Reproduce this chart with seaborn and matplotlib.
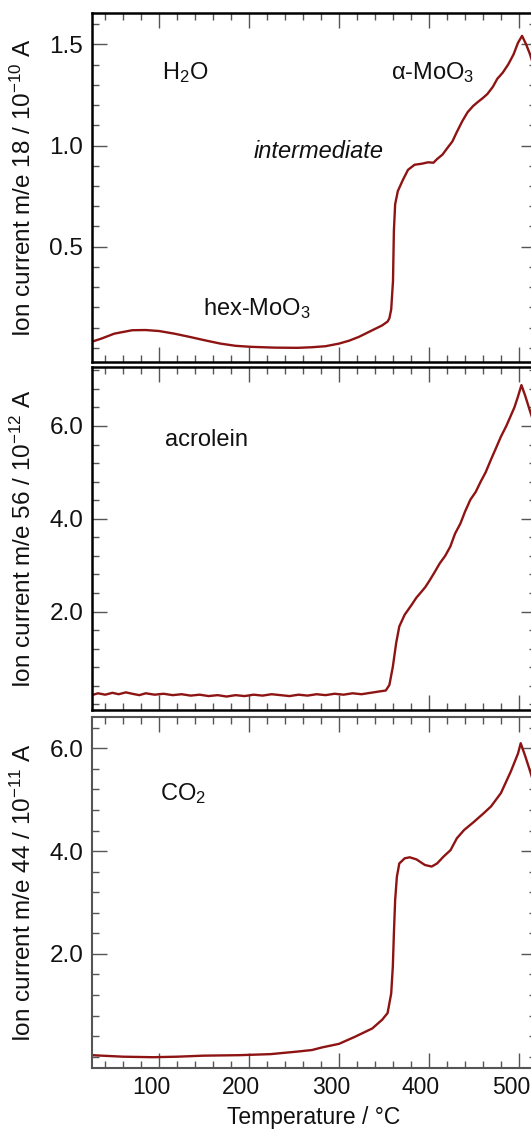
import numpy as np
import pandas as pd
import matplotlib
matplotlib.use("Agg")
import matplotlib.pyplot as plt
from matplotlib.ticker import MultipleLocator, FixedLocator, NullFormatter
from matplotlib.transforms import ScaledTranslation
import seaborn as sns

# ---------------- data ----------------
temp_h2o = [25, 36, 50, 70, 85, 100, 117, 134, 150, 168, 185, 202, 228, 254, 270, 285,
            300, 311, 322, 337, 348, 354, 356, 358, 360, 361, 362.4, 365.4, 371, 376.7,
            384, 392, 399, 405, 409, 415, 420, 426, 431, 437, 443, 449, 454, 460, 465,
            471, 476, 482, 488, 494, 499, 503.5, 508, 512, 516]
h2o = [0.030, 0.046, 0.070, 0.087, 0.088, 0.083, 0.070, 0.054, 0.038, 0.021, 0.010, 0.005,
       0.001, 0.000, 0.003, 0.008, 0.021, 0.035, 0.054, 0.087, 0.111, 0.130, 0.146, 0.190,
       0.330, 0.580, 0.710, 0.775, 0.830, 0.880, 0.905, 0.910, 0.917, 0.915, 0.933, 0.955,
       0.985, 1.020, 1.067, 1.120, 1.165, 1.195, 1.214, 1.235, 1.255, 1.290, 1.330, 1.360,
       1.400, 1.450, 1.508, 1.542, 1.500, 1.455, 1.400]

temp_acr = [25, 32, 40, 48, 55, 63, 70, 78, 85, 95, 105, 115, 125, 135, 145, 155, 165, 175,
            185, 195, 205, 215, 225, 235, 245, 255, 265, 275, 285, 295, 305, 315, 325, 335,
            345, 352, 356, 359.8, 363.5, 367, 372.9, 380.5, 386, 391.7, 396, 401, 406, 412,
            418, 423.7, 429, 435, 440, 446, 452, 457.5, 463, 468.8, 474, 480, 486, 491.4,
            495, 498.9, 502.8, 507, 512, 516]
acrolein = [0.20, 0.24, 0.21, 0.25, 0.22, 0.26, 0.23, 0.20, 0.24, 0.21, 0.23, 0.20, 0.22,
            0.19, 0.21, 0.18, 0.20, 0.17, 0.20, 0.18, 0.21, 0.19, 0.22, 0.20, 0.18, 0.21,
            0.19, 0.22, 0.20, 0.23, 0.21, 0.24, 0.22, 0.25, 0.28, 0.30, 0.42, 0.81, 1.32,
            1.68, 1.93, 2.14, 2.30, 2.43, 2.53, 2.68, 2.84, 3.04, 3.20, 3.40, 3.68, 3.90,
            4.15, 4.41, 4.58, 4.80, 5.00, 5.27, 5.50, 5.77, 6.00, 6.24, 6.40, 6.63, 6.88,
            6.65, 6.34, 6.10]

temp_co2 = [25, 36, 60, 93, 120, 149, 190, 224, 254, 270, 281, 300, 318, 337, 348, 354,
            358, 359.8, 361, 362.4, 364.3, 367, 373, 378.6, 386, 395.5, 403, 409, 416, 424,
            431, 439, 450, 461, 469, 480, 491, 499, 502, 507, 512, 516]
co2 = [0.03, 0.02, 0.00, -0.01, 0.00, 0.02, 0.03, 0.05, 0.10, 0.13, 0.18, 0.25, 0.39,
       0.55, 0.72, 0.85, 1.23, 1.75, 2.40, 3.05, 3.50, 3.76, 3.86, 3.88, 3.84, 3.73, 3.70,
       3.76, 3.89, 4.02, 4.25, 4.41, 4.57, 4.74, 4.87, 5.13, 5.55, 5.90, 6.10, 5.85, 5.58,
       5.35]

ylabels = ["Ion current m/e 18 / 10$^{\\mathregular{-10}}$ A",
           "Ion current m/e 56 / 10$^{\\mathregular{-12}}$ A",
           "Ion current m/e 44 / 10$^{\\mathregular{-11}}$ A"]
x_ticks = [100, 200, 300, 400, 500]
xlabel = "Temperature / °C"

# ---------------- style ----------------
sns.set_style("ticks")
plt.rcParams["font.family"] = ["Liberation Sans", "DejaVu Sans"]
plt.rcParams["mathtext.fontset"] = "custom"
plt.rcParams["mathtext.rm"] = "Liberation Sans"
plt.rcParams["mathtext.it"] = "Liberation Sans:italic"

LINE = "#8e1414"
FS_TICK = 17.5
FS_XTICK = 16.5
FS_LAB = 17.5
FS_XLAB = 16.5
FS_ANN = 17
TXT = "#111111"
W, H = 531, 1134
fig = plt.figure(figsize=(W / 100, H / 100), dpi=100)

def px_axes(top, bottom, left=91.7, right=536):
    return [left / W, 1 - bottom / H, (right - left) / W, (bottom - top) / H]

panels = [
    dict(pos=px_axes(13, 362), x=temp_h2o, y=h2o, ylim=(-0.07, 1.655),
         major=[0.5, 1.0, 1.5], minor=0.1, spine="black", slw=1.8),
    dict(pos=px_axes(367, 710), x=temp_acr, y=acrolein, ylim=(-0.12, 7.27),
         major=[2.0, 4.0, 6.0], minor=0.4, spine="black", slw=1.8),
    dict(pos=px_axes(717, 1068), x=temp_co2, y=co2, ylim=(-0.22, 6.61),
         major=[2.0, 4.0, 6.0], minor=0.4, spine="#555555", slw=1.5),
]

axes = []
for i, p in enumerate(panels):
    ax = fig.add_axes(p["pos"])
    df = pd.DataFrame({"T": p["x"], "I": p["y"]})
    sns.lineplot(data=df, x="T", y="I", ax=ax, color=LINE, linewidth=1.7, sort=False)
    ax.set_xlim(25, 519)
    ax.set_ylim(*p["ylim"])
    ax.xaxis.set_major_locator(FixedLocator(x_ticks))
    ax.xaxis.set_minor_locator(MultipleLocator(20))
    ax.yaxis.set_major_locator(FixedLocator(p["major"]))
    ax.yaxis.set_minor_locator(MultipleLocator(p["minor"]))
    ax.set_yticklabels(["{:.1f}".format(v) for v in p["major"]])
    ax.tick_params(which="both", direction="in", top=True, right=True,
                   color="#555555", pad=6, labelcolor=TXT)
    ax.tick_params(axis="y", labelsize=FS_TICK)
    ax.tick_params(axis="x", labelsize=FS_XTICK)
    ax.tick_params(which="major", length=11, width=1.0)
    ax.tick_params(which="minor", length=5, width=1.0)
    for s in ax.spines.values():
        s.set_color(p["spine"])
        s.set_linewidth(p["slw"])
    ax.set_ylabel(ylabels[i], fontsize=FS_LAB, color=TXT)
    ax.yaxis.set_label_coords(-0.125, 0.5)
    if i < 2:
        ax.set_xlabel("")
        ax.xaxis.set_major_formatter(NullFormatter())
    else:
        ax.set_xticklabels([str(t) for t in x_ticks])
        off = ScaledTranslation(-8 / 100, 0, fig.dpi_scale_trans)
        for lab in ax.get_xticklabels():
            lab.set_transform(lab.get_transform() + off)
        ax.set_xlabel(xlabel, fontsize=FS_XLAB, color=TXT, labelpad=5)
    axes.append(ax)

txt = dict(fontsize=FS_ANN, color=TXT, va="center", ha="left")
axes[0].text(103, 1.36, "H$_\\mathregular{2}$O", **txt)
axes[0].text(358, 1.36, "α-MoO$_\\mathregular{3}$", **txt)
axes[0].text(205, 0.97, "intermediate", style="italic", **txt)
axes[0].text(149, 0.195, "hex-MoO$_\\mathregular{3}$", **txt)
axes[1].text(106, 5.7, "acrolein", **txt)
axes[2].text(101, 5.12, "CO$_\\mathregular{2}$", **txt)

fig.savefig("out.png", dpi=100)
